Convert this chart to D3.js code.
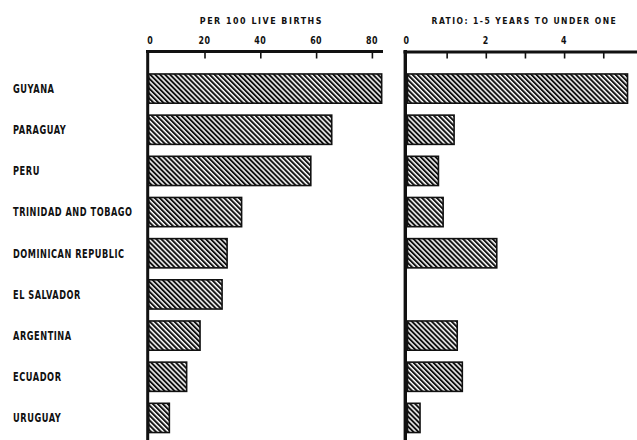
<!DOCTYPE html>
<html>
<head>
<meta charset="utf-8">
<script src="https://cdn.jsdelivr.net/npm/d3@7"></script>
<style>
  html, body { margin: 0; padding: 0; background: #fff; }
  svg { display: block; }
  text { font-family: "DejaVu Sans Condensed", "DejaVu Sans", sans-serif; font-weight: bold; fill: #111; }
</style>
</head>
<body>
<script>
// ---- data ----
const countries = ["GUYANA", "PARAGUAY", "PERU", "TRINIDAD AND TOBAGO", "DOMINICAN REPUBLIC",
                   "EL SALVADOR", "ARGENTINA", "ECUADOR", "URUGUAY"];
const per100LiveBirths = [83.5, 65.6, 58.1, 33.3, 28.1, 26.3, 18.4, 13.6, 7.4];
const ratioOneToFive = [5.62, 1.19, 0.79, 0.91, 2.28, null, 1.27, 1.40, 0.32];
const leftTicks = [20, 40, 60, 80];
const leftTickLabels = [0, 20, 40, 60, 80];
const rightTicks = [1, 2, 3, 4, 5];
const rightTickLabels = [0, 2, 4];
const leftTitle = "PER 100 LIVE BIRTHS";
const rightTitle = "RATIO: 1-5 YEARS TO UNDER ONE";

const W = 637, H = 440;
const svg = d3.select("body").append("svg").attr("width", W).attr("height", H);

// hatch pattern
const defs = svg.append("defs");
const pat = defs.append("pattern").attr("id", "hatch")
  .attr("patternUnits", "userSpaceOnUse").attr("width", 3.5).attr("height", 3.5)
  .attr("patternTransform", "rotate(-45)");
pat.append("rect").attr("width", 3.5).attr("height", 3.5).attr("fill", "#fff");
pat.append("rect").attr("x", 0).attr("y", 0).attr("width", 2.0).attr("height", 3.5).attr("fill", "#111");

const y = d3.scaleBand().domain(countries).range([68.0, 438.5]).paddingInner(0.29).paddingOuter(0.145);
const xL = d3.scaleLinear().domain([0, 80]).range([148.7, 371.9]);
const xR = d3.scaleLinear().domain([0, 5]).range([407.5, 603.25]);

// measure plain width, then add spacing and fit to a fraction of that width
const squeeze = (sel, f, ls) => sel.each(function () {
  const w = this.getComputedTextLength();
  d3.select(this).attr("letter-spacing", ls || 0)
    .attr("textLength", w * f).attr("lengthAdjust", "spacingAndGlyphs");
});

// country labels
svg.append("g").selectAll("text").data(countries).join("text")
  .attr("x", 13).attr("y", d => y(d) + y.bandwidth() / 2 + 4.4)
  .attr("font-size", 12).text(d => d)
  .call(squeeze, 0.83, 0.7);

// bars left
svg.append("g").selectAll("rect").data(countries).join("rect")
  .attr("x", xL(0)).attr("y", d => y(d))
  .attr("width", (d, i) => xL(per100LiveBirths[i]) - xL(0))
  .attr("height", y.bandwidth())
  .attr("fill", "url(#hatch)").attr("stroke", "#111").attr("stroke-width", 1.6);

// bars right
const rdata = countries.map((c, i) => ({ c, v: ratioOneToFive[i] })).filter(d => d.v != null);
svg.append("g").selectAll("rect").data(rdata).join("rect")
  .attr("x", xR(0)).attr("y", d => y(d.c))
  .attr("width", d => xR(d.v) - xR(0))
  .attr("height", y.bandwidth())
  .attr("fill", "url(#hatch)").attr("stroke", "#111").attr("stroke-width", 1.6);

// axes (ticks pointing down into the chart, labels above)
const axisY = 51.5;
const gL = svg.append("g").attr("transform", `translate(0,${axisY})`)
  .call(d3.axisTop(xL).tickValues(leftTicks).tickSizeInner(-7).tickSizeOuter(0).tickFormat(""));
gL.select(".domain").remove();
gL.selectAll(".tick line").attr("stroke", "#111").attr("stroke-width", 1.6);
svg.append("g").selectAll("text").data(leftTickLabels).join("text")
  .attr("x", d => xL(d) + (d === 0 ? 1.5 : 0)).attr("y", 44.3)
  .attr("text-anchor", "middle").attr("font-size", 10).text(d => d)
  .call(squeeze, 0.95, 0.5);

const gR = svg.append("g").attr("transform", `translate(0,${axisY})`)
  .call(d3.axisTop(xR).tickValues(rightTicks).tickSizeInner(-7).tickSizeOuter(0).tickFormat(""));
gR.select(".domain").remove();
gR.selectAll(".tick line").attr("stroke", "#111").attr("stroke-width", 1.6);
svg.append("g").selectAll("text").data(rightTickLabels).join("text")
  .attr("x", d => xR(d) - (d === 0 ? 1 : 0)).attr("y", 44.3)
  .attr("text-anchor", "middle").attr("font-size", 10).text(d => d)
  .call(squeeze, 0.95, 0.5);

// frame lines
svg.append("line").attr("x1", 146).attr("x2", 383).attr("y1", axisY).attr("y2", axisY)
  .attr("stroke", "#111").attr("stroke-width", 3);
svg.append("line").attr("x1", 147.7).attr("x2", 147.7).attr("y1", axisY - 1.5).attr("y2", H)
  .attr("stroke", "#111").attr("stroke-width", 3);
svg.append("line").attr("x1", 403.5).attr("x2", W).attr("y1", axisY + 0.5).attr("y2", axisY + 0.5)
  .attr("stroke", "#111").attr("stroke-width", 3.2);
svg.append("line").attr("x1", 405.3).attr("x2", 405.3).attr("y1", axisY - 1.5).attr("y2", H)
  .attr("stroke", "#111").attr("stroke-width", 3.4);

// titles
svg.append("text").attr("x", 261.4).attr("y", 24).attr("text-anchor", "middle")
  .attr("font-size", 9.3).text(leftTitle).call(squeeze, 1.24, 1.6);
svg.append("text").attr("x", 524.4).attr("y", 24).attr("text-anchor", "middle")
  .attr("font-size", 9.3).text(rightTitle).call(squeeze, 1.18, 1.6);
</script>
</body>
</html>
